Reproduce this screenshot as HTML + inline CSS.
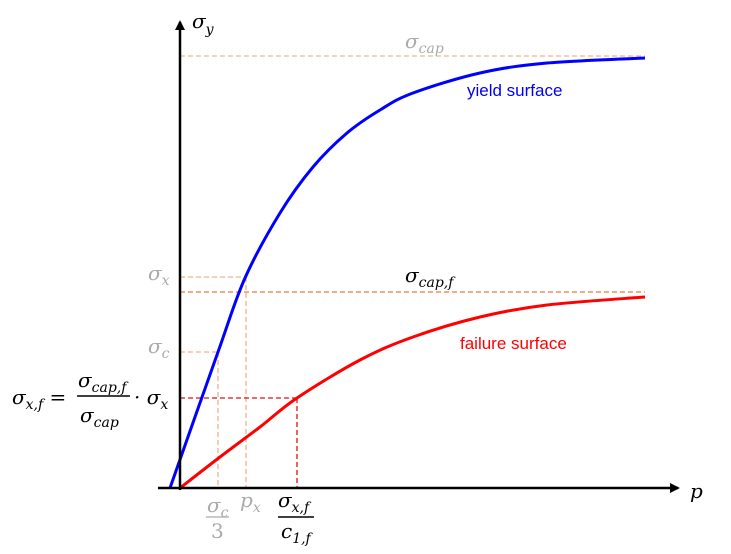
<!DOCTYPE html>
<html><head><meta charset="utf-8"><style>
body{margin:0;background:#fff;}
svg{display:block;font-family:"DejaVu Serif","Liberation Serif",serif;}
.m{font-style:italic;font-size:20px;}
.s{font-size:14px;}
.g{fill:#aaa;}
.lbl{font-family:"Liberation Sans",sans-serif;font-size:17px;}
</style></head><body>
<svg id="chart" width="731" height="554" viewBox="0 0 731 554">
<defs>
<marker id="ah" markerWidth="10" markerHeight="10" refX="8" refY="5" orient="auto" markerUnits="userSpaceOnUse">
<path d="M0,0 L16,5 L0,10 Z" fill="#000" transform="scale(0.62,1)"/></marker>
</defs>
<g id="guides"></g>
<g id="curves"></g>
<line x1="158" y1="488" x2="678" y2="488" stroke="#000" stroke-width="2.5" marker-end="url(#ah)"/>
<line x1="180" y1="490" x2="180" y2="22" stroke="#000" stroke-width="2.5" marker-end="url(#ah)"/>
<text class="m" x="192" y="28" font-size="22">σ<tspan class="s" dy="6" font-size="16">y</tspan></text>
<text class="m" x="690" y="498" font-size="22">p</text>
<text class="m g" x="405" y="48">σ<tspan class="s" dy="5">cap</tspan></text>
<text class="m" x="405" y="282">σ<tspan class="s" dy="5">cap,f</tspan></text>
<text class="lbl" x="467" y="96" fill="#0000ee">yield surface</text>
<text class="lbl" x="460" y="349" fill="#ff0000">failure surface</text>
<text class="m g" x="148" y="280">σ<tspan class="s" dy="5">x</tspan></text>
<text class="m g" x="148" y="353">σ<tspan class="s" dy="5">c</tspan></text>
<g>
<text class="m" x="12" y="404">σ<tspan class="s" dy="5">x,f</tspan><tspan dy="-5" font-style="normal"> =</tspan></text>
<text class="m" x="78" y="387">σ<tspan class="s" dy="5">cap,f</tspan></text>
<line x1="77" y1="396" x2="130" y2="396" stroke="#000" stroke-width="1.5"/>
<text class="m" x="80" y="422">σ<tspan class="s" dy="5">cap</tspan></text>
<text class="m" x="134" y="404">· σ<tspan class="s" dy="5">x</tspan></text>
</g>
<g>
<text class="m g" x="207" y="512">σ<tspan class="s" dy="5">c</tspan></text>
<line x1="206" y1="517" x2="229" y2="517" stroke="#aaa" stroke-width="1.2"/>
<text class="g" x="211" y="538" font-size="20">3</text>
</g>
<text class="m g" x="240" y="507">p<tspan class="s" dy="5">x</tspan></text>
<g>
<text class="m" x="278" y="507">σ<tspan class="s" dy="5">x,f</tspan></text>
<line x1="278" y1="517" x2="314" y2="517" stroke="#000" stroke-width="1.5"/>
<text class="m" x="281" y="538">c<tspan class="s" dy="5">1,f</tspan></text>
</g>
</svg>
<script>
// data (x = p units, y = sigma units)
const yieldP = [-10, 38, 65, 100, 133, 167, 200, 233, 300, 367, 465];
const yieldS = [0, 136, 210, 275, 321, 355, 378, 395, 415, 425, 430];
const failP = [0, 40, 80, 117, 180, 233, 300, 367, 465];
const failS = [0, 31, 61, 90, 128, 151, 171, 183, 191];
const sigmaCap = 432, sigmaCapF = 196, sigmaX = 211, pX = 66, sigmaC = 136, pC = 38, sigmaXF = 90, pXF = 117, pEnd = 465;
const X = v => 180 + v, Y = v => 488 - v;
const NS = "http://www.w3.org/2000/svg";
function path(ps, ss) {
  const pts = ps.map((p, i) => [X(p), Y(ss[i])]);
  let d = "M" + pts[0][0] + "," + pts[0][1];
  for (let i = 0; i < pts.length - 1; i++) {
    const p0 = pts[i - 1] || pts[i], p1 = pts[i], p2 = pts[i + 1], p3 = pts[i + 2] || p2;
    d += " C" + (p1[0] + (p2[0] - p0[0]) / 6) + "," + (p1[1] + (p2[1] - p0[1]) / 6) + " " + (p2[0] - (p3[0] - p1[0]) / 6) + "," + (p2[1] - (p3[1] - p1[1]) / 6) + " " + p2[0] + "," + p2[1];
  }
  return d;
}
function line(x1, y1, x2, y2, col, name) {
  const l = document.createElementNS(NS, "line");
  l.setAttribute("x1", x1); l.setAttribute("y1", y1); l.setAttribute("x2", x2); l.setAttribute("y2", y2);
  l.setAttribute("stroke", col); l.setAttribute("stroke-width", "1.3"); l.setAttribute("stroke-dasharray", "5,3");
  
  
  document.getElementById("guides").appendChild(l);
}
line(X(0), Y(sigmaCap), X(pEnd), Y(sigmaCap), "#f4b18a", "sigma-cap-guide");
line(X(0), Y(sigmaX), X(pX), Y(sigmaX), "#f4b18a", "sigma-x-guide");
line(X(pX), Y(sigmaX), X(pX), Y(0), "#f4b18a", "p-x-guide");
line(X(0), Y(sigmaC), X(pC), Y(sigmaC), "#f4b18a", "sigma-c-guide");
line(X(pC), Y(sigmaC), X(pC), Y(0), "#f4b18a", "sigma-c-3-guide");
line(X(0), Y(sigmaCapF), X(pEnd), Y(sigmaCapF), "#ee7a3a", "sigma-cap-f-guide");
line(X(0), Y(sigmaXF), X(pXF), Y(sigmaXF), "#e01010", "sigma-x-f-guide");
line(X(pXF), Y(sigmaXF), X(pXF), Y(0), "#e01010", "sigma-x-f-vertical-guide");
function curve(ps, ss, col, name) {
  const p = document.createElementNS(NS, "path");
  p.setAttribute("d", path(ps, ss)); p.setAttribute("fill", "none");
  p.setAttribute("stroke", col); p.setAttribute("stroke-width", "3");
  
  
  document.getElementById("curves").appendChild(p);
}
curve(yieldP, yieldS, "#0000ff", "yield-surface-curve");
curve(failP, failS, "#ff0000", "failure-surface-curve");
</script>
</body></html>
